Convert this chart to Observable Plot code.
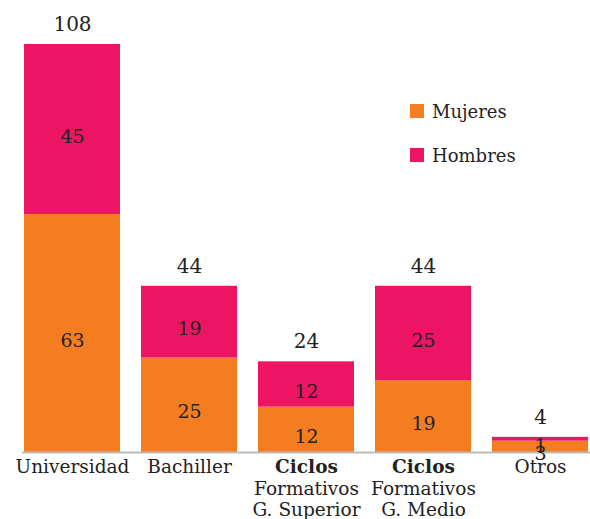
<!DOCTYPE html>
<html>
<head>
<meta charset="utf-8">
<script src="https://cdn.jsdelivr.net/npm/d3@7"></script>
<script src="https://cdn.jsdelivr.net/npm/@observablehq/plot@0.6"></script>
<style>
  body { margin: 0; background: #fff; }
  #wrap { position: relative; width: 590px; height: 519px; font-family: "DejaVu Serif", serif; }
  #legend { position: absolute; left: 410px; top: 100px; font-size: 18px; color: #222; }
  .item { display: flex; align-items: center; height: 22px; margin-bottom: 22px; }
  .sw { width: 14px; height: 14px; margin-right: 8px; }
</style>
</head>
<body>
<div id="wrap"><div id="chart"></div><div id="legend"></div></div>
<script>
const categories = ["Universidad", "Bachiller", "Ciclos Formativos G. Superior", "Ciclos Formativos G. Medio", "Otros"];
const tickLabels = ["Universidad", "Bachiller", "Ciclos\nFormativos\nG. Superior", "Ciclos\nFormativos\nG. Medio", "Otros"];
const mujeres = [63, 25, 12, 19, 3];
const hombres = [45, 19, 12, 25, 1];
const totals = [108, 44, 24, 44, 4];
const series = ["Mujeres", "Hombres"];
const colors = ["#f47d22", "#ed1464"];

const data = [];
categories.forEach((c, i) => {
  data.push({cat: c, sexo: "Mujeres", value: mujeres[i]});
  data.push({cat: c, sexo: "Hombres", value: hombres[i]});
});
const totalData = categories.map((c, i) => ({cat: c, total: totals[i]}));
const labelOf = new Map(categories.map((c, i) => [c, tickLabels[i]]));

const chart = Plot.plot({
  width: 590,
  height: 519,
  marginLeft: 22,
  marginRight: 0,
  marginTop: 44,
  marginBottom: 67,
  style: {fontFamily: "DejaVu Serif, serif", fontSize: "18px", color: "#222"},
  x: {type: "band", domain: categories, paddingInner: 0.18, paddingOuter: 0, label: null},
  y: {domain: [0, 108], axis: null},
  color: {domain: series, range: colors},
  marks: [
    Plot.barY(data, {x: "cat", y: "value", fill: "sexo"}),
    Plot.ruleY([0], {stroke: "#bbb", strokeWidth: 2}),
    Plot.text(data, Plot.stackY({x: "cat", y: "value", z: "sexo", text: "value", fill: "#222", fontSize: 19, dy: 7})),
    Plot.text(totalData, {x: "cat", y: "total", text: "total", dy: -20, fill: "#222", fontSize: 20}),
    Plot.axisX({tickSize: 0, tickPadding: 5, fontSize: 18.5, tickFormat: d => labelOf.get(d), lineHeight: 1.17, label: null})
  ]
});
document.getElementById("chart").appendChild(chart);
d3.select(chart).selectAll("tspan").filter(function() { return this.textContent === "Ciclos"; }).attr("font-weight", "bold");

const legend = document.getElementById("legend");
series.forEach((s, i) => {
  const it = document.createElement("div");
  it.className = "item";
  it.innerHTML = `<div class="sw" style="background:${colors[i]}"></div><span>${s}</span>`;
  legend.appendChild(it);
});
</script>
</body>
</html>
